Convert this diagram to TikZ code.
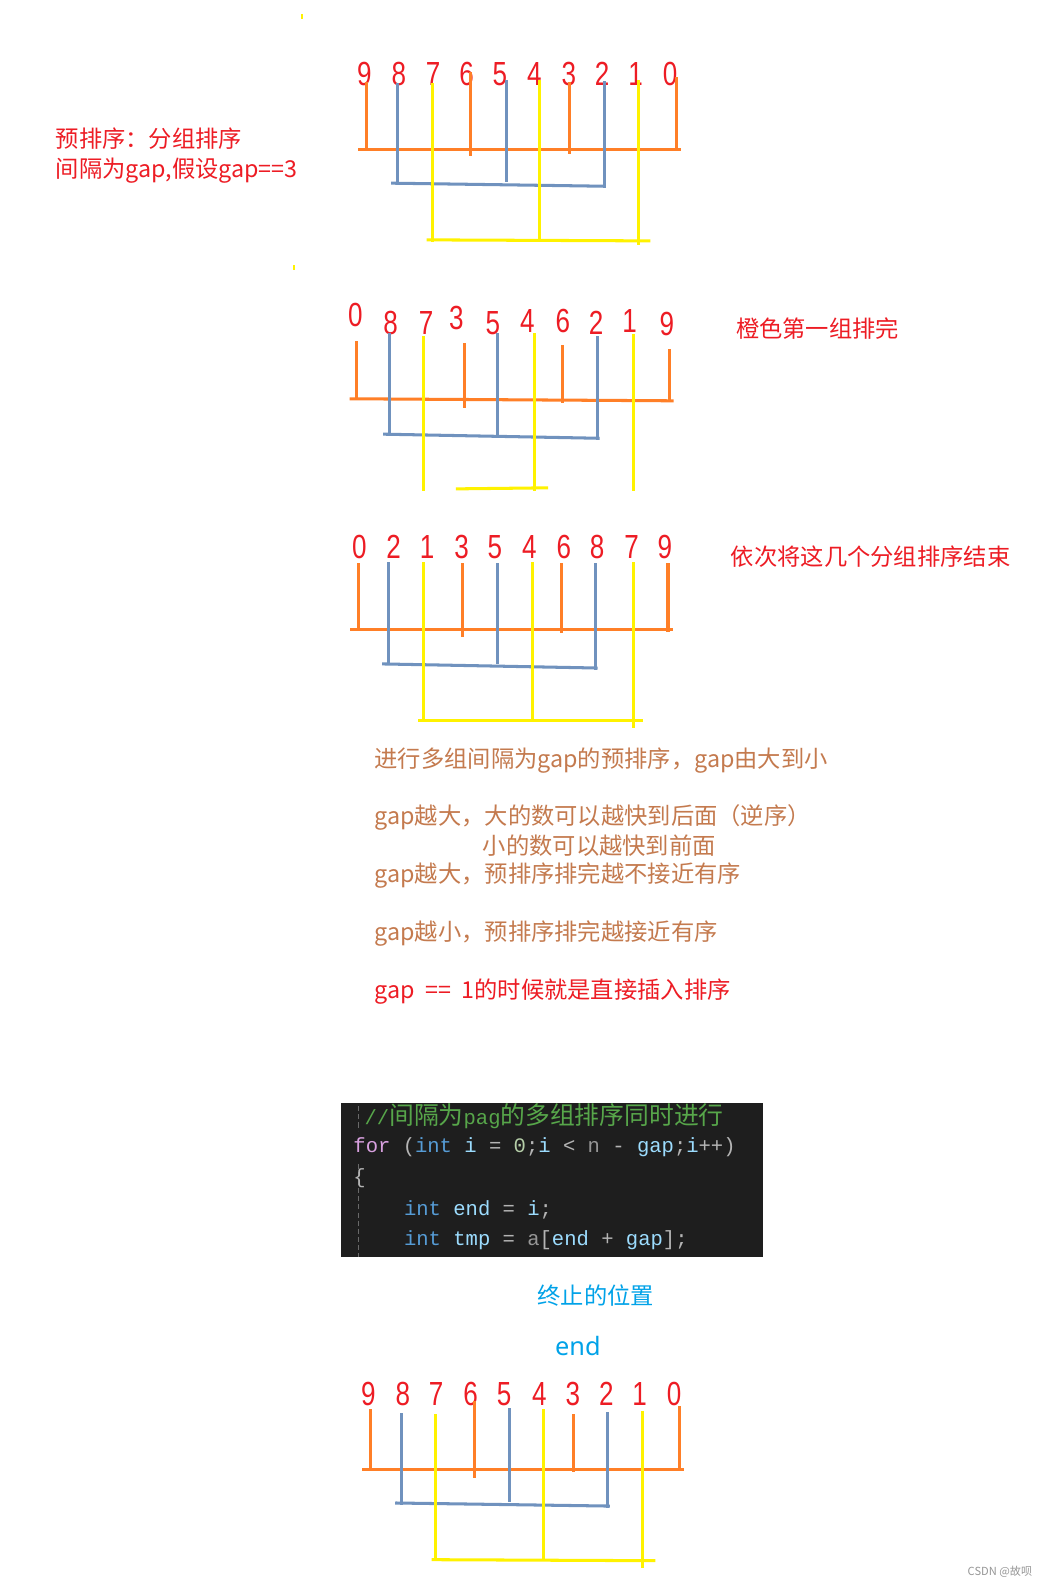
\documentclass[tikz,border=0pt]{standalone}
\usepackage{fontspec}
\newfontfamily\digitfont[FakeStretch=0.78]{Liberation Sans}
\newfontfamily\cjkfont{Noto Sans CJK SC}
\newfontfamily\codefont{Liberation Mono}
\newfontfamily\plainsans{Noto Sans}
\definecolor{digred}{RGB}{237,28,36}
\definecolor{og}{RGB}{255,127,39}
\definecolor{bl}{RGB}{112,146,190}
\definecolor{yl}{RGB}{255,242,0}
\definecolor{brn}{RGB}{196,122,78}
\definecolor{cyanblue}{RGB}{0,162,232}
\definecolor{codebg}{RGB}{30,30,30}
\definecolor{ckw}{RGB}{216,160,223}
\definecolor{cty}{RGB}{86,156,214}
\definecolor{cvar}{RGB}{156,220,254}
\definecolor{cpn}{RGB}{180,180,180}
\definecolor{cnum}{RGB}{181,206,168}
\definecolor{cgray}{RGB}{150,150,150}
\definecolor{ccm}{RGB}{87,166,74}
\begin{document}
\begin{tikzpicture}[x=1pt,y=1pt,
  dig/.style={font=\digitfont\fontsize{33}{33}\selectfont, text=digred, inner sep=0pt, anchor=base},
  wire/.style={line width=3pt, line cap=rect, line join=miter},
  ogw/.style={wire, draw=og},
  blw/.style={wire, draw=bl},
  ylw/.style={wire, draw=yl},
  note/.style={font=\cjkfont\fontsize{23}{26}\selectfont, inner sep=0pt, anchor=base west},
  rednote/.style={note, text=digred},
  brnote/.style={note, text=brn},
  codeline/.style={font=\codefont\fontsize{20.3}{22}\selectfont, inner sep=0pt, anchor=base west}
]
\useasboundingbox (0,0) rectangle (1036,-1568);
\fill[white] (0,0) rectangle (1036,-1568);

% tiny yellow artifacts
\fill[yl] (297,-14) rectangle (299,-19);
\fill[yl] (289,-262) rectangle (291,-267);

% ---------- Section A ----------
\foreach \n/\x in {9/360,8/394,7/428,6/461,5/494,4/528,3/562,2/595,1/628,0/662}
  \node[dig] (a\n) at (\x,-84) {\n};
\draw[ogw] (355,-148) -- (671,-148);
\draw[blw] (388,-181) -- (597,-184);
\draw[ylw] (423,-237) -- (641,-238);
\foreach \n/\dx/\sy/\l in {9/2/2/65,6/4/12/80,3/1/2/68,0/6/7/70}
  \draw[ogw] ([shift={(\dx,\sy)}]a\n.south) -- ++(0,-\l);
\foreach \n/\dx/\sy/\l in {8/-1/1/97,5/6/4/98,2/2/3/103}
  \draw[blw] ([shift={(\dx,\sy)}]a\n.south) -- ++(0,-\l);
\foreach \n/\dx/\sy/\l in {7/-1/1/154,4/5/4/157,1/3/4/160}
  \draw[ylw] ([shift={(\dx,\sy)}]a\n.south) -- ++(0,-\l);

\node[rednote] (t1) at (55,-146) {预排序：分组排序};
\node[rednote] (t2) at (55,-175) {间隔为gap,假设gap==3};

% ---------- Section B ----------
\foreach \n/\x/\b in {0/351/323,8/386/330,7/421/330,3/451/326,5/487/330,4/521/329,6/556/329,2/589/330,1/622/329,9/659/331}
  \node[dig] (b\n) at (\x,-\b) {\n};
\draw[ogw] (347,-394) -- (664,-396);
\draw[blw] (380,-429) -- (591,-433);
\draw[ylw] (452,-483) -- (540,-482);
\foreach \n/\dx/\sy/\l in {0/1/-15/55,3/8/-14/61,6/0/-13/54,9/2/-15/49}
  \draw[ogw] ([shift={(\dx,\sy)}]b\n.south) -- ++(0,-\l);
\foreach \n/\dx/\sy/\l in {8/-1/0/99,5/5/0/100,2/1/-3/100}
  \draw[blw] ([shift={(\dx,\sy)}]b\n.south) -- ++(0,-\l);
\foreach \n/\dx/\sy/\l in {7/-3/-3/150,4/7/-1/153,1/4/-2/152}
  \draw[ylw] ([shift={(\dx,\sy)}]b\n.south) -- ++(0,-\l);
\node[rednote] (t3) at (727,-333) {橙色第一组排完};

% ---------- Section C ----------
\foreach \n/\x in {0/355,2/389,1/422,3/456,5/489,4/523,6/557,8/590,7/624,9/657}
  \node[dig] (c\n) at (\x,-552) {\n};
\draw[ogw] (347,-622) -- (663,-622);
\draw[blw] (379,-656) -- (589,-660);
\draw[ylw] (414,-712) -- (634,-712);
\foreach \n/\dx/\sy/\l in {0/-1/-5/63,3/1/-5/70,6/-2/-5/66,9/3/-5/65}
  \draw[ogw] ([shift={(\dx,\sy)}]c\n.south) -- ++(0,-\l);
\foreach \n/\dx/\sy/\l in {2/-5/-5/98,5/3/-5/97,8/-2/-5/103}
  \draw[blw] ([shift={(\dx,\sy)}]c\n.south) -- ++(0,-\l);
\foreach \n/\dx/\sy/\l in {1/-4/-5/155,4/3/-5/155,7/2/-5/161}
  \draw[ylw] ([shift={(\dx,\sy)}]c\n.south) -- ++(0,-\l);
\node[rednote] (t4) at (722,-559) {依次将这几个分组排序结束};

% ---------- explanation ----------
\node[brnote] (e1) at (370,-758) {进行多组间隔为gap的预排序，gap由大到小};
\node[brnote] (e2) at (370,-815) {gap越大，大的数可以越快到后面（逆序）};
\node[brnote] (e3) at (477,-844) {小的数可以越快到前面};
\node[brnote] (e4) at (370,-872) {gap越大，预排序排完越不接近有序};
\node[brnote] (e5) at (370,-929) {gap越小，预排序排完越接近有序};
\node[rednote] (e6) at (370,-987) {gap\ \ ==\ \ 1的时候就是直接插入排序};

% ---------- code block ----------
\fill[codebg] (337,-1090) rectangle (754,-1242);
\draw[cgray!70!black, line width=1.5pt, dash pattern=on 5pt off 3pt] (354,-1093) -- (354,-1117);
\draw[cgray!70!black, line width=1.5pt, dash pattern=on 5pt off 3pt] (354,-1150) -- (354,-1242);
\begin{scope}
\clip (337,-1090) rectangle (754,-1242);
\node[codeline, text=ccm] (k1) at (360,-1111) {//{\cjkfont\fontsize{24.5}{25}\selectfont 间隔为}pag{\cjkfont\fontsize{24.5}{25}\selectfont 的多组排序同时进行}};
\end{scope}
\node[codeline] (k2) at (349,-1139) {\textcolor{ckw}{for} \textcolor{cpn}{(}\textcolor{cty}{int} \textcolor{cvar}{i} \textcolor{cpn}{=} \textcolor{cnum}{0}\textcolor{cpn}{;}\textcolor{cvar}{i} \textcolor{cpn}{<} \textcolor{cgray}{n} \textcolor{cpn}{-} \textcolor{cvar}{gap}\textcolor{cpn}{;}\textcolor{cvar}{i}\textcolor{cpn}{++)}};
\node[codeline, text=cpn] (k3) at (349,-1169) {\{};
\node[codeline] (k4) at (399,-1201) {\textcolor{cty}{int} \textcolor{cvar}{end} \textcolor{cpn}{=} \textcolor{cvar}{i}\textcolor{cpn}{;}};
\node[codeline] (k5) at (399,-1231) {\textcolor{cty}{int} \textcolor{cvar}{tmp} \textcolor{cpn}{=} \textcolor{cgray}{a}\textcolor{cpn}{[}\textcolor{cvar}{end} \textcolor{cpn}{+} \textcolor{cvar}{gap}\textcolor{cpn}{];}};

\node[note, text=cyanblue] (s1) at (531,-1289) {终止的位置};
\node[font=\plainsans\fontsize{25}{28}\selectfont, text=cyanblue, inner sep=0pt, anchor=base] (s2) at (571,-1339) {end};

% ---------- Section D ----------
\foreach \n/\x in {9/364,8/398,7/431,6/465,5/498,4/533,3/566,2/599,1/632,0/666}
  \node[dig] (d\n) at (\x,-1389) {\n};
\draw[ogw] (359,-1452) -- (674,-1452);
\draw[blw] (392,-1485) -- (601,-1488);
\draw[ylw] (428,-1541) -- (646,-1542);
\foreach \n/\dx/\sy/\l in {9/2/-4/55,6/4/4/73,3/1/-9/54,0/5/-1/60}
  \draw[ogw] ([shift={(\dx,\sy)}]d\n.south) -- ++(0,-\l);
\foreach \n/\dx/\sy/\l in {8/-1/-8/88,5/5/-3/90,2/1/-7/92}
  \draw[blw] ([shift={(\dx,\sy)}]d\n.south) -- ++(0,-\l);
\foreach \n/\dx/\sy/\l in {7/-1/-9/143,4/4/-4/148,1/3/-6/153}
  \draw[ylw] ([shift={(\dx,\sy)}]d\n.south) -- ++(0,-\l);

\node[font=\cjkfont\fontsize{11}{12}\selectfont, text=cgray, inner sep=0pt, anchor=base east] (wm) at (1020,-1557) {CSDN @故呗};
\end{tikzpicture}
\end{document}
